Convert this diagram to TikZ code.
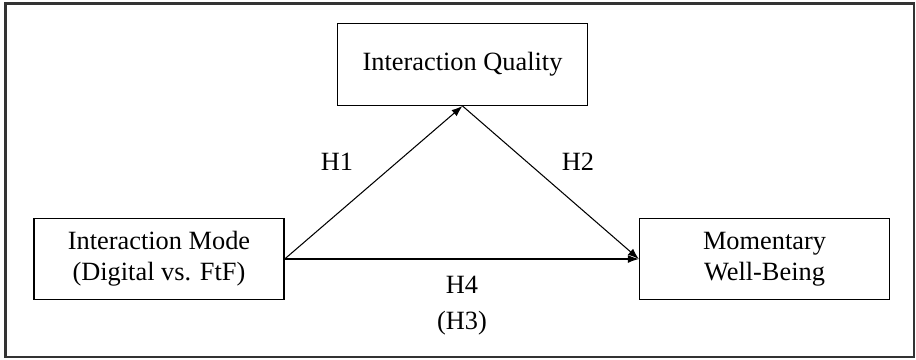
\documentclass[tikz,border=0pt]{standalone}
\usepackage{fontspec}
\setmainfont{Liberation Serif}
\usetikzlibrary{arrows.meta}
\begin{document}
\begin{tikzpicture}[x=0.02cm,y=-0.02cm,
  var/.style={draw,line width=0.8pt,minimum width=5cm,minimum height=1.63cm,align=center,font=\fontsize{15}{17.5}\selectfont},
  hyp/.style={font=\fontsize{15}{17.5}\selectfont},
  path/.style={line width=0.6pt,-{Latex[length=2.2mm,width=1.6mm]}}]
\useasboundingbox (0,0) rectangle (916,359);
\draw[line width=1.2pt,black!80] (5.5,3.5) rectangle (914,357);
\node[var] (quality) at (462.5,64.5) {Interaction Quality};
\node[var] (mode) at (159,259) {Interaction Mode\\(Digital vs. FtF)};
\node[var] (wellbeing) at (764.5,259) {Momentary\\Well-Being};
\node[hyp] (h1) at (337,162) {H1};
\node[hyp] (h2) at (578,162) {H2};
\node[hyp] (h4) at (462,285) {H4};
\node[hyp] (h3) at (462,323) {(H3)};
\draw[path] (mode.east) -- (quality.south);
\draw[path] (quality.south) -- (wellbeing.west);
\draw[path] (mode.east) -- (wellbeing.west);
\end{tikzpicture}
\end{document}
